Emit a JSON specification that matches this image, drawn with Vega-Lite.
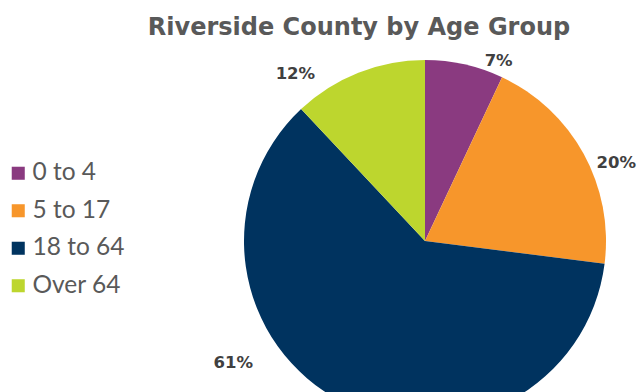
{
  "$schema": "https://vega.github.io/schema/vega-lite/v6.json",
  "width": 362,
  "height": 362,
  "autosize": {"type": "none"},
  "padding": {"left": 244, "top": 60, "right": 31, "bottom": 0},
  "background": "white",
  "title": {"text": "Riverside County by Age Group", "font": "DejaVu Sans", "fontSize": 24, "fontWeight": "bold", "color": "#595959", "anchor": "middle", "dx": -66, "offset": 13},
  "data": {"values": [
    {"group": "0 to 4", "pct": 7, "idx": 1, "label": "7%"},
    {"group": "5 to 17", "pct": 20, "idx": 2, "label": "20%"},
    {"group": "18 to 64", "pct": 61, "idx": 3, "label": "61%"},
    {"group": "Over 64", "pct": 12, "idx": 4, "label": "12%"}
  ]},
  "encoding": {
    "theta": {"field": "pct", "type": "quantitative", "stack": true},
    "order": {"field": "idx", "type": "quantitative"}
  },
  "layer": [
    {
      "mark": {"type": "arc", "outerRadius": 181},
      "encoding": {
        "color": {
          "field": "group", "type": "nominal",
          "scale": {"domain": ["0 to 4", "5 to 17", "18 to 64", "Over 64"], "range": ["#8A3A80", "#F7962B", "#00335F", "#BDD62E"]},
          "legend": {"orient": "none", "legendX": -238, "legendY": 101, "title": null, "labelFont": "Lato", "labelFontSize": 24.5, "labelColor": "#595959", "symbolType": "square", "symbolSize": 170, "symbolStrokeWidth": 0, "rowPadding": 12.5, "labelOffset": 2}
        }
      }
    },
    {
      "mark": {
        "type": "text", "radius": 200, "font": "DejaVu Sans", "fontSize": 16.5, "fontWeight": "bold", "color": "#404040",
        "dx": {"expr": "datum.group == '0 to 4' ? 30 : datum.group == '5 to 17' ? 16 : datum.group == '18 to 64' ? -101 : -56"},
        "dy": {"expr": "datum.group == '0 to 4' ? 15 : datum.group == '5 to 17' ? 18 : datum.group == '18 to 64' ? -56 : 19"}
      },
      "encoding": {"text": {"field": "label"}}
    }
  ]
}
